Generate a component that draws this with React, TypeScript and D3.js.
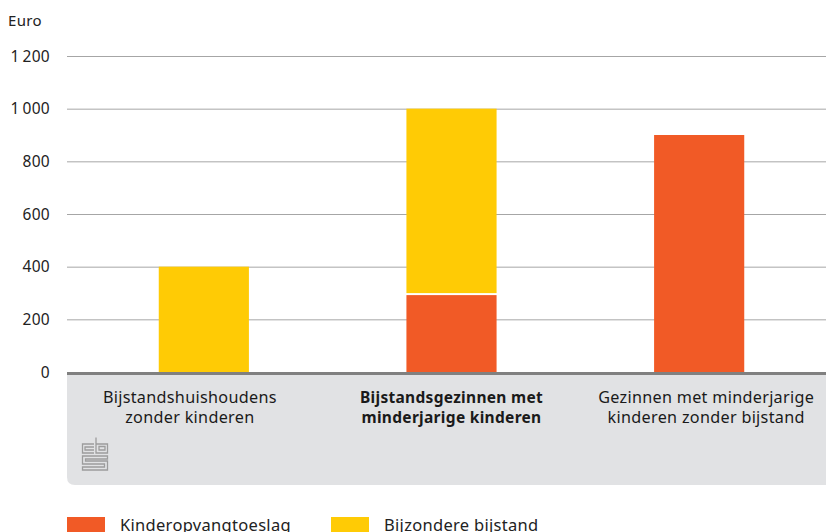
import React, { useLayoutEffect, useRef } from "react";
import * as d3 from "d3";

const categories = [
  "Bijstandshuishoudens|zonder kinderen",
  "Bijstandsgezinnen met|minderjarige kinderen",
  "Gezinnen met minderjarige|kinderen zonder bijstand",
];
const kinderopvangtoeslag = [0, 292, 900];
const bijzondereBijstand = [400, 708, 0];
const seriesNames = ["Kinderopvangtoeslag", "Bijzondere bijstand"];
const yTicks = [0, 200, 400, 600, 800, 1000, 1200];

const ORANGE = "#f15a26";
const YELLOW = "#ffcb05";
const FONT = "'Noto Sans', sans-serif";

export default function App() {
  const ref = useRef<SVGSVGElement>(null);

  useLayoutEffect(() => {
    const svg = d3.select(ref.current);
    svg.selectAll("*").remove();

    const left = 67;
    const right = 826;
    const yScale = d3.scaleLinear().domain([0, 1200]).range([372, 56]);
    const xScale = d3
      .scaleBand()
      .domain(categories)
      .range([80, 823])
      .paddingInner(0.636)
      .paddingOuter(0.318);

    // y label
    svg
      .append("text")
      .attr("x", 8)
      .attr("y", 26)
      .attr("font-size", 15)
      .attr("fill", "#222")
      .text("Euro");

    // grid
    svg
      .append("g")
      .selectAll("line")
      .data(yTicks.filter(d => d > 0))
      .enter()
      .append("line")
      .attr("x1", left)
      .attr("x2", right)
      .attr("y1", d => yScale(d) + 0.5)
      .attr("y2", d => yScale(d) + 0.5)
      .attr("stroke", "#a6a6a6")
      .attr("stroke-width", 1);

    svg
      .append("g")
      .selectAll("text")
      .data(yTicks)
      .enter()
      .append("text")
      .attr("x", 50)
      .attr("y", d => yScale(d) + 5.5)
      .attr("text-anchor", "end")
      .attr("font-size", 15.5)
      .attr("fill", "#222")
      .text(d => d3.format(",")(d).replace(",", "\u2009"));

    // grey category band
    const bandTop = 375;
    const bandBottom = 485;
    const r = 8;
    svg
      .append("path")
      .attr(
        "d",
        `M${left},${bandTop} H${right} V${bandBottom} H${left + r} Q${left},${bandBottom} ${left},${bandBottom - r} Z`
      )
      .attr("fill", "#e1e2e4");

    // bars
    const bw = xScale.bandwidth();
    const bars = svg.append("g");
    categories.forEach((c, i) => {
      const x = xScale(c) as number;
      const k = kinderopvangtoeslag[i];
      const b = bijzondereBijstand[i];
      if (k > 0) {
        bars
          .append("rect")
          .attr("x", x)
          .attr("width", bw)
          .attr("y", yScale(k))
          .attr("height", yScale(0) - yScale(k))
          .attr("fill", ORANGE);
      }
      if (b > 0) {
        const gap = k > 0 ? 2 : 0;
        bars
          .append("rect")
          .attr("x", x)
          .attr("width", bw)
          .attr("y", yScale(k + b))
          .attr("height", yScale(k) - yScale(k + b) - gap)
          .attr("fill", YELLOW);
      }
    });

    // axis line
    svg
      .append("line")
      .attr("x1", left)
      .attr("x2", right)
      .attr("y1", 373.5)
      .attr("y2", 373.5)
      .attr("stroke", "#808080")
      .attr("stroke-width", 3);

    // category labels (slightly shifted like the original)
    const labelShift = [-14, 0, 7];
    categories.forEach((c, i) => {
      const cx = (xScale(c) as number) + bw / 2 + labelShift[i];
      const lines = c.split("|");
      const t = svg
        .append("text")
        .attr("text-anchor", "middle")
        .attr("font-size", i === 1 ? 15.5 : 16.2)
        .attr("fill", "#1a1a1a")
        .attr("font-weight", i === 1 ? "bold" : "normal");
      lines.forEach((l, j) => {
        t.append("tspan").attr("x", cx).attr("y", 403 + j * 20).text(l);
      });
    });

    // cbs logo
    const logo = svg
      .append("g")
      .attr("transform", "translate(82,437)")
      .attr("fill", "none")
      .attr("stroke", "#9c9c9c")
      .attr("stroke-width", 1.3);
    logo.append("path").attr("d", "M12,7 H0.5 V16 H12 M12,10 H3 V13 H12");
    logo.append("path").attr("d", "M14,0.5 V16 H25.5 V7 H14 M17,9.5 H23 V13 H17 Z");
    logo
      .append("path")
      .attr("d", "M25.5,19 H0.5 V27 H22.5 V30 H0.5 V33 H25.5 V24 H3.5 V22 H25.5 Z");

    // legend
    const legend = svg.append("g");
    const lx = [67, 331];
    seriesNames.forEach((n, i) => {
      legend
        .append("rect")
        .attr("x", lx[i])
        .attr("y", 517)
        .attr("width", 38)
        .attr("height", 16)
        .attr("fill", i === 0 ? ORANGE : YELLOW);
      legend
        .append("text")
        .attr("x", lx[i] + 53)
        .attr("y", 531)
        .attr("font-size", 16.5)
        .attr("fill", "#222")
        .text(n);
    });
  }, []);

  return (
    <svg
      ref={ref}
      width={826}
      height={532}
      style={{ position: "absolute", left: 0, top: 0, fontFamily: FONT, letterSpacing: "0.3px" }}
    />
  );
}
